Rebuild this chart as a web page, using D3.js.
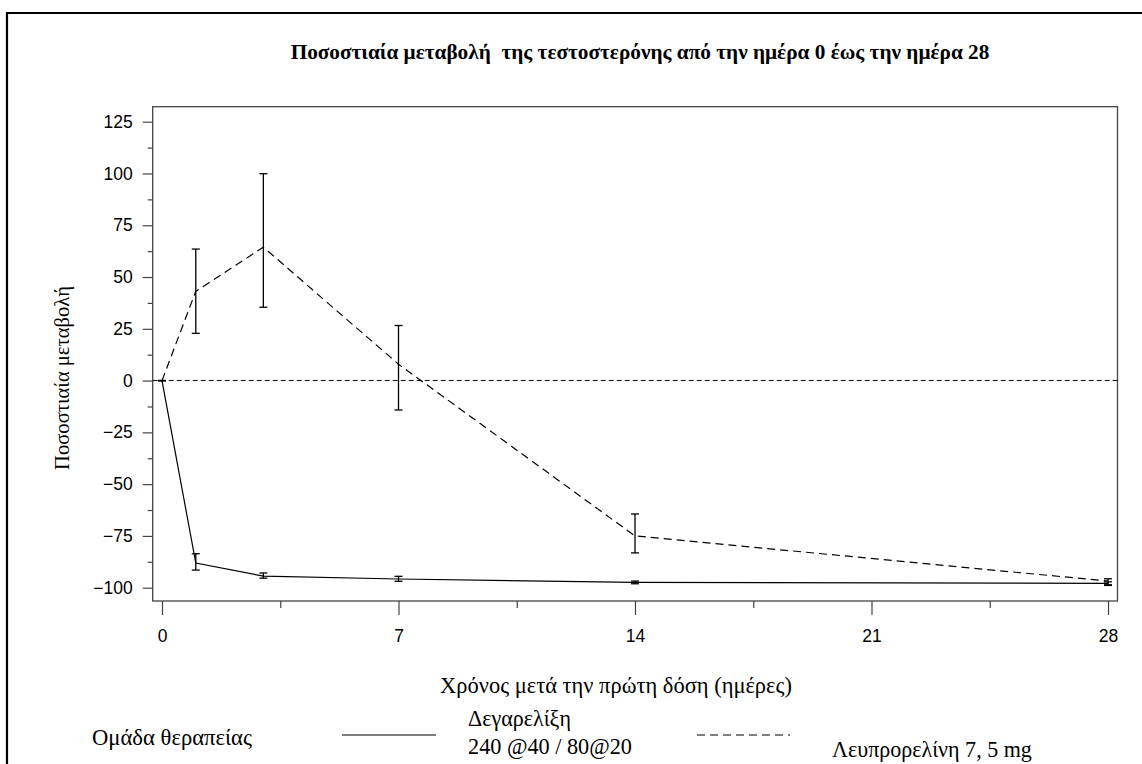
<!DOCTYPE html>
<html><head><meta charset="utf-8">
<script src="https://cdn.jsdelivr.net/npm/d3@7"></script>
<style>body{margin:0;background:#fff}svg{display:block}</style>
</head><body>
<script>
const days = [0, 1, 3, 7, 14, 28];
const degarelix = [0, -88.1, -94.4, -95.8, -97.4, -97.9];
const degarelixLow = [0, -91.5, -95.4, -96.9, -98.1, -98.6];
const degarelixHigh = [0, -83.6, -92.9, -94.5, -96.8, -97.2];
const leuprorelin = [0, 43.1, 64.4, 7.9, -75.0, -96.8];
const leuprorelinLow = [0, 22.8, 35.4, -14.2, -83.2, -98.9];
const leuprorelinHigh = [0, 63.5, 99.9, 26.6, -64.4, -95.7];
const xTicks = [0, 7, 14, 21, 28];
const xMinorTicks = [3.5, 10.5, 17.5, 24.5];
const yTicks = [-100, -75, -50, -25, 0, 25, 50, 75, 100, 125];
const yMinorTicks = [-87.5, -62.5, -37.5, -12.5, 12.5, 37.5, 62.5, 87.5, 112.5];
const title = "Ποσοστιαία μεταβολή  της τεστοστερόνης από την ημέρα 0 έως την ημέρα 28";
const xLabel = "Χρόνος μετά την πρώτη δόση (ημέρες)";
const yLabel = "Ποσοστιαία μεταβολή";
const legendTitle = "Ομάδα θεραπείας";
const seriesNames = [["Δεγαρελίξη", "240 @40 / 80@20"], ["Λευπρορελίνη 7, 5 mg"]];

const W = 1142, H = 764;
const svg = d3.select("body").append("svg").attr("width", W).attr("height", H);
const serif = "'Liberation Serif','Times New Roman','DejaVu Serif',serif";
const sans = "'Liberation Sans',Arial,Helvetica,sans-serif";

// size a text so that it spans the wanted width
function fitText(sel, width, base) {
  sel.attr("font-size", base);
  const len = sel.node().getComputedTextLength();
  sel.attr("font-size", base * width / len);
  return sel;
}

// outer border
svg.append("path").attr("d", `M7,764 V13 H1142`).attr("fill", "none").attr("stroke", "#000").attr("stroke-width", 2.2);

const frame = {l: 152.7, r: 1117.5, t: 106.7, b: 601};
const x = d3.scaleLinear().domain([0, 28]).range([162, 1108]);
const y = d3.scaleLinear().domain([-100, 125]).range([587.7, 121.7]);

// title
fitText(svg.append("text").attr("x", 640).attr("y", 59).attr("text-anchor", "middle")
  .attr("font-family", serif).attr("font-weight", "bold").style("white-space", "pre").text(title), 699, 20);

// frame
svg.append("rect").attr("x", frame.l).attr("y", frame.t).attr("width", frame.r - frame.l).attr("height", frame.b - frame.t)
  .attr("fill", "none").attr("stroke", "#444").attr("stroke-width", 1.3);

// y axis
const yAxis = d3.axisLeft(y).tickValues(yTicks).tickSize(10).tickPadding(10).tickFormat(d3.format("d"));
const gy = svg.append("g").attr("transform", `translate(${frame.l},0)`).call(yAxis);
gy.select(".domain").remove();
gy.selectAll("line").attr("stroke", "#444").attr("stroke-width", 1.2);
gy.selectAll("text").attr("font-family", sans).attr("font-size", 17.5).attr("fill", "#000");
const yMinor = d3.axisLeft(y).tickValues(yMinorTicks).tickSize(5).tickFormat("");
const gym = svg.append("g").attr("transform", `translate(${frame.l},0)`).call(yMinor);
gym.select(".domain").remove();
gym.selectAll("line").attr("stroke", "#444").attr("stroke-width", 1.2);

// x axis
const xAxis = d3.axisBottom(x).tickValues(xTicks).tickSize(14).tickPadding(15).tickFormat(d3.format("d"));
const gx = svg.append("g").attr("transform", `translate(0,${frame.b})`).call(xAxis);
gx.select(".domain").remove();
gx.selectAll("line").attr("stroke", "#444").attr("stroke-width", 1.2);
gx.selectAll("text").attr("font-family", sans).attr("font-size", 17.5).attr("fill", "#000");
const xMinor = d3.axisBottom(x).tickValues(xMinorTicks).tickSize(7).tickFormat("");
const gxm = svg.append("g").attr("transform", `translate(0,${frame.b})`).call(xMinor);
gxm.select(".domain").remove();
gxm.selectAll("line").attr("stroke", "#444").attr("stroke-width", 1.2);

// axis labels
fitText(svg.append("text").attr("x", 616).attr("y", 693).attr("text-anchor", "middle")
  .attr("font-family", serif).text(xLabel), 352, 20);
fitText(svg.append("text").attr("transform", `translate(69,378) rotate(-90)`).attr("text-anchor", "middle")
  .attr("font-family", serif).text(yLabel), 184, 20);

// zero reference line
svg.append("line").attr("x1", frame.l).attr("x2", frame.r).attr("y1", y(0)).attr("y2", y(0))
  .attr("stroke", "#000").attr("stroke-width", 1).attr("stroke-dasharray", "5,3");

const line = d3.line().x(d => x(d[0])).y(d => y(d[1]));
function drawSeries(vals, lo, hi, dash) {
  const pts = days.map((d, i) => [d, vals[i]]);
  svg.append("path").datum(pts).attr("d", line).attr("fill", "none").attr("stroke", "#000")
    .attr("stroke-width", 1.2).attr("stroke-dasharray", dash);
  const g = svg.append("g").attr("stroke", "#000").attr("stroke-width", 1.3);
  days.forEach((d, i) => {
    const cx = x(d);
    g.append("line").attr("x1", cx).attr("x2", cx).attr("y1", y(lo[i])).attr("y2", y(hi[i]));
    g.append("line").attr("x1", cx - 4).attr("x2", cx + 4).attr("y1", y(lo[i])).attr("y2", y(lo[i]));
    g.append("line").attr("x1", cx - 4).attr("x2", cx + 4).attr("y1", y(hi[i])).attr("y2", y(hi[i]));
  });
}
drawSeries(degarelix, degarelixLow, degarelixHigh, null);
drawSeries(leuprorelin, leuprorelinLow, leuprorelinHigh, "8,5");

// legend
fitText(svg.append("text").attr("x", 92).attr("y", 745).attr("font-family", serif).text(legendTitle), 160, 20);
svg.append("line").attr("x1", 342).attr("x2", 436).attr("y1", 735).attr("y2", 735).attr("stroke", "#000").attr("stroke-width", 1.2);
fitText(svg.append("text").attr("x", 468).attr("y", 726).attr("font-family", serif).text(seriesNames[0][0]), 103, 20);
fitText(svg.append("text").attr("x", 468).attr("y", 754).attr("font-family", serif).text(seriesNames[0][1]), 164, 20);
svg.append("line").attr("x1", 697).attr("x2", 790).attr("y1", 735).attr("y2", 735).attr("stroke", "#000").attr("stroke-width", 1.2).attr("stroke-dasharray", "8,5");
fitText(svg.append("text").attr("x", 832).attr("y", 757).attr("font-family", serif).text(seriesNames[1][0]), 200, 20);
</script>
</body></html>
